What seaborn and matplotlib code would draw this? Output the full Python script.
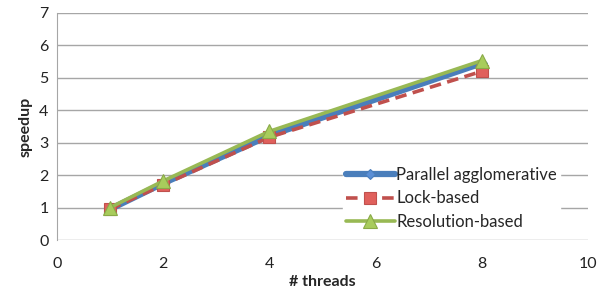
import numpy as np
import pandas as pd
import matplotlib
matplotlib.use("Agg")
import matplotlib.pyplot as plt
import seaborn as sns

threads = [1, 2, 4, 8]
parallel_agglom = [0.95, 1.75, 3.22, 5.45]
lock_based = [0.95, 1.70, 3.17, 5.20]
resolution_based = [1.00, 1.82, 3.35, 5.53]

series_names = ["Parallel agglomerative", "Lock-based", "Resolution-based"]

sns.set_style("white")
plt.rcParams["font.family"] = ["Lato", "DejaVu Sans"]

df = pd.DataFrame({
    "threads": threads * 3,
    "speedup": parallel_agglom + lock_based + resolution_based,
    "series": [s for s in series_names for _ in threads],
})

fig = plt.figure(figsize=(5.98, 3.02), dpi=100)
ax = fig.add_axes([0.095, 0.205, 0.888, 0.752])

styles = {
    "Parallel agglomerative": dict(color="#4A7EBB", lw=4.5, ls="-", marker="D", ms=5,
                                   mfc="#5B8FD6", mec="#4A7EBB"),
    "Lock-based": dict(color="#C0504D", lw=2.6, ls=(0, (3.2, 1.8)), marker="s", ms=9,
                       mfc="#E0605C", mec="#C0504D"),
    "Resolution-based": dict(color="#98B954", lw=2.6, ls="-", marker="^", ms=10,
                             mfc="#A8CC5C", mec="#8AAA48"),
}

for name in series_names:
    st = styles[name]
    sub = df[df["series"] == name]
    sns.lineplot(data=sub, x="threads", y="speedup", ax=ax, label=name,
                 color=st["color"], linewidth=st["lw"], linestyle=st["ls"],
                 marker=st["marker"], markersize=st["ms"],
                 markerfacecolor=st["mfc"], markeredgecolor=st["mec"],
                 markeredgewidth=0.8, zorder=3)

ax.set_xlim(0, 10)
ax.set_ylim(0, 7)
ax.set_xticks([0, 2, 4, 6, 8, 10])
ax.set_yticks(range(0, 8))
ax.yaxis.grid(True, color="#A6A6A6", linewidth=1)
ax.set_axisbelow(True)
for s in ["top", "right", "bottom"]:
    ax.spines[s].set_visible(False)
ax.spines["left"].set_color("#A6A6A6")
ax.tick_params(axis="both", labelsize=11.5, length=0, colors="#222222")
ax.tick_params(axis="x", pad=12)
ax.tick_params(axis="y", pad=6)
ax.set_xlabel("# threads", fontsize=11.5, fontweight="bold", labelpad=3)
ax.set_ylabel("speedup", fontsize=11.5, fontweight="bold", labelpad=5)

leg = ax.legend(loc="lower right", bbox_to_anchor=(0.964, -0.008), frameon=True,
                fontsize=12, handlelength=2.9, handletextpad=0.1,
                labelspacing=0.47, borderpad=0.2, borderaxespad=0.5)
leg.get_frame().set_edgecolor("white")
leg.get_frame().set_facecolor("white")
leg.get_frame().set_alpha(1)

fig.savefig("out.png", dpi=100)
